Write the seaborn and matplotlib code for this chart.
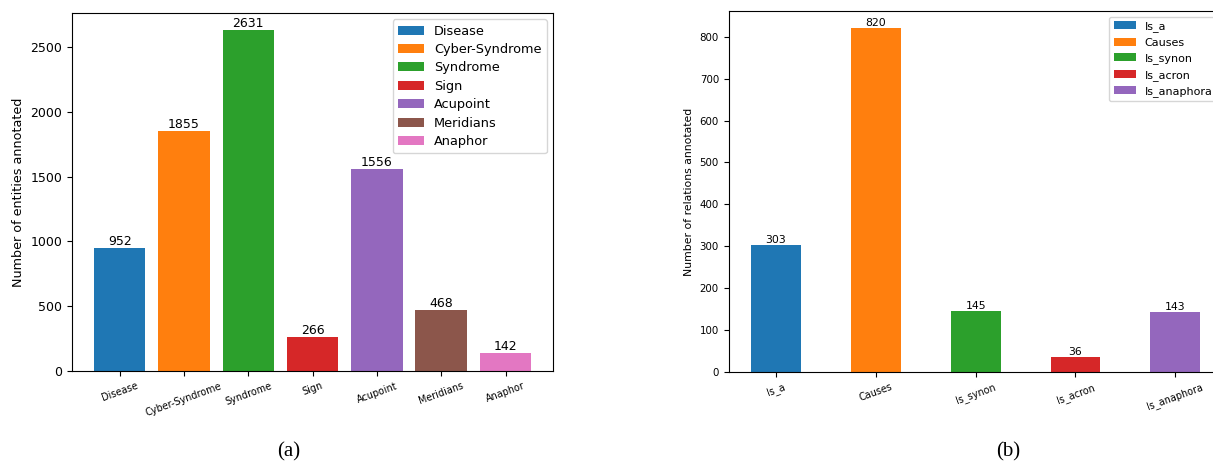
import matplotlib
matplotlib.use("Agg")
import matplotlib.pyplot as plt
import seaborn as sns
import pandas as pd

# ---- data ----
entity_types = ["Disease", "Cyber-Syndrome", "Syndrome", "Sign", "Acupoint", "Meridians", "Anaphor"]
entity_counts = [952, 1855, 2631, 266, 1556, 468, 142]

relation_types = ["Is_a", "Causes", "Is_synon", "Is_acron", "Is_anaphora"]
relation_counts = [303, 820, 145, 36, 143]

palette = sns.color_palette("tab10")

df_e = pd.DataFrame({"type": entity_types, "count": entity_counts})
df_r = pd.DataFrame({"type": relation_types, "count": relation_counts})

fig = plt.figure(figsize=(12.13, 4.62), dpi=100)
ax1 = fig.add_axes([0.0594, 0.197, 0.3966, 0.775])
ax2 = fig.add_axes([0.6007, 0.1948, 0.4073, 0.781])

# ---- left panel ----
sns.barplot(data=df_e, x="type", y="count", hue="type", palette=palette[:7],
            width=0.8, saturation=1, ax=ax1, legend=True)
for c in ax1.containers:
    ax1.bar_label(c, fontsize=9, padding=0)
ax1.set_xlim(-0.74, 6.74)
ax1.set_xlabel("")
ax1.set_ylabel("Number of entities annotated", fontsize=9.2)
ax1.tick_params(axis="y", labelsize=9)
ax1.tick_params(axis="x", labelsize=6.9, rotation=20)
sns.move_legend(ax1, "upper right", title=None, fontsize=9.3, labelspacing=0.42)

# ---- right panel ----
sns.barplot(data=df_r, x="type", y="count", hue="type", palette=palette[:5],
            width=0.5, saturation=1, ax=ax2, legend=True)
for c in ax2.containers:
    ax2.bar_label(c, fontsize=7.8, padding=0)
ax2.set_xlim(-0.475, 4.475)
ax2.set_xlabel("")
ax2.set_ylabel("Number of relations annotated", fontsize=7.8)
ax2.tick_params(axis="y", labelsize=7.4)
ax2.tick_params(axis="x", labelsize=6.9, rotation=20)
sns.move_legend(ax2, "upper right", title=None, fontsize=8)

# ---- captions ----
fig.text(289 / 1213, 1 - 452 / 462, "(a)", ha="center", va="center",
         fontsize=15, family="Liberation Serif")
fig.text(1008 / 1213, 1 - 452 / 462, "(b)", ha="center", va="center",
         fontsize=15, family="Liberation Serif")

fig.savefig("out.png", dpi=100)
